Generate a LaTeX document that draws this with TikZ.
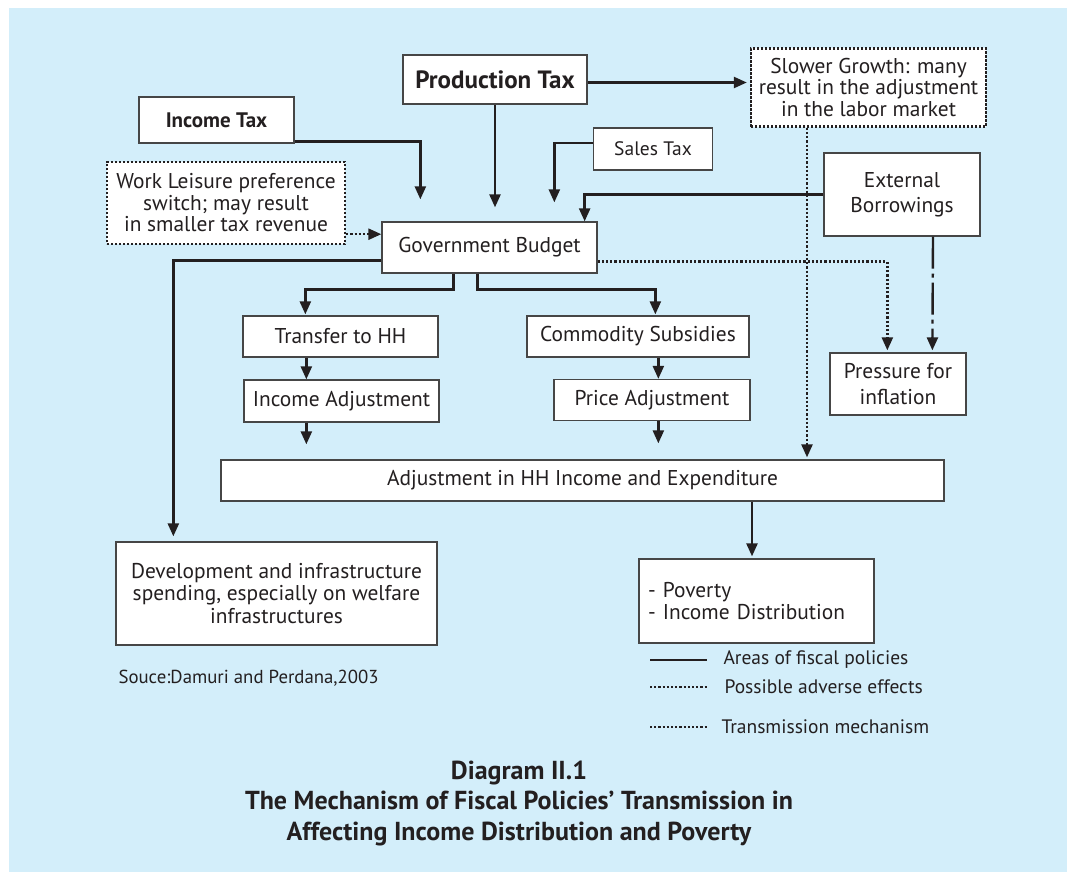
\documentclass[tikz,border=0pt]{standalone}
\usepackage{fontspec}
\setmainfont{PT Sans}
\usetikzlibrary{calc,positioning,arrows.meta}
\definecolor{bgblue}{RGB}{211,238,250}
\definecolor{ink}{RGB}{35,31,32}
\definecolor{edge}{RGB}{70,70,70}

\begin{document}
\begin{tikzpicture}[
    x=1pt, y=-1pt,
    >={Triangle[length=13pt,width=11pt]},
    box/.style={rectangle,draw=edge,line width=1.3pt,fill=white,inner sep=0pt,
                align=center,text=ink,font=\fontsize{21.4}{21.5}\selectfont},
    dotbox/.style={box,draw=ink,line width=2.4pt,dash pattern=on 2.2pt off 1.8pt},
    arr/.style={->,line width=2.4pt,draw=ink},
    dotarr/.style={arr,line width=2.4pt,dash pattern=on 2.2pt off 2pt},
    dasharr/.style={arr,dash pattern=on 32pt off 5pt on 4pt off 5pt},
    legtxt/.style={anchor=west,text=ink,font=\fontsize{19.5}{21}\selectfont},
  ]
  \useasboundingbox (0,0) rectangle (1067,872);
  \fill[bgblue] (9,8) rectangle (1067,872);

  % boxes
  \node[box,line width=2.6pt,minimum width=184pt,minimum height=49pt,
        font=\fontsize{25}{26}\bfseries]               (prod)   at (495,79.5)  {Production Tax};
  \node[dotbox,minimum width=235pt,minimum height=78pt] (slow)   at (868.5,87.5) {Slower Growth: many\\result in the adjustment\\in the labor market};
  \node[box,minimum width=155pt,minimum height=46pt,
        font=\fontsize{21}{22}\bfseries]               (inc)    at (216.5,120) {Income Tax};
  \node[box,minimum width=119pt,minimum height=42pt,
        font=\fontsize{19.5}{21}\selectfont]           (sales)  at (653,149)   {Sales Tax};
  \node[dotbox,minimum width=238pt,minimum height=82pt] (work)   at (226,203)   {Work Leisure preference\\switch; may result\\in smaller tax revenue};
  \node[box,minimum width=156pt,minimum height=83pt,
        font=\fontsize{21.4}{25}\selectfont]           (ext)    at (902,194.5) {External\\Borrowings};
  \node[box,minimum width=215pt,minimum height=51pt]   (govt)   at (489.5,247.5) {Government Budget};
  \node[box,minimum width=195pt,minimum height=41pt]   (trans)  at (340.5,336.5) {Transfer to HH};
  \node[box,minimum width=222pt,minimum height=41pt]   (comm)   at (638,336.5) {Commodity Subsidies};
  \node[box,minimum width=136pt,minimum height=62pt,
        font=\fontsize{21.4}{26}\selectfont]           (press)  at (898,384)   {Pressure for\\inflation};
  \node[box,minimum width=195pt,minimum height=42pt]   (incadj) at (341.5,401) {Income Adjustment};
  \node[box,minimum width=196pt,minimum height=41pt]   (price)  at (652,400)   {Price Adjustment};
  \node[box,minimum width=723pt,minimum height=41pt]   (adj)    at (582.5,480.5) {Adjustment in HH Income and Expenditure};
  \node[box,minimum width=321pt,minimum height=103pt,
        font=\fontsize{21.4}{22.5}\selectfont]         (dev)    at (276.5,593.5) {Development and infrastructure\\spending, especially on welfare\\infrastructures};
  \node[box,minimum width=235pt,minimum height=84pt,
        text width=217pt,align=left]                   (pov)    at (756.5,601) {- Poverty\\- Income Distribution};

  % helper points
  \coordinate (wl) at ($(work.south east)+(0,-11)$);
  \coordinate (gl) at ($(govt.south west)+(0,-13)$);
  \coordinate (gr) at ($(govt.south east)+(0,-12)$);
  \coordinate (ia) at ($(incadj.south west)+(63,0)$);
  \coordinate (pa) at ($(price.south west)+(105,0)$);
  \coordinate (sd) at ($(slow.south)+(-61.5,0)$);
  \coordinate (ap) at ($(pov.north)+(-4.5,0)$);
  \coordinate (pe) at ($(prod.east)+(0,3)$);

  % connectors
  \draw[arr,shorten >=3pt]  (pe) -- (pe -| slow.west);
  \draw[arr,shorten >=14pt] (prod.south) -- (prod.south |- govt.north);
  \draw[arr,shorten >=22pt] ($(inc.south east)+(0,-2)$) -| ($(govt.north west)+(39,0)$);
  \draw[arr,shorten >=19pt] ($(sales.west)+(0,-6)$) -| ($(govt.north west)+(173,0)$);
  \draw[arr]                (ext.west) -| ($(govt.north east)+(-13,0)$);
  \draw[dotarr]             (wl) -- (wl -| govt.west);
  \draw[arr,shorten >=5pt]  (gl) -| ($(dev.north west)+(58,0)$);
  \draw[arr,shorten >=1pt]  ($(govt.south)+(-36,0)$) -- ++(0,16) -| ($(trans.north west)+(63,0)$);
  \draw[arr,shorten >=1pt]  ($(govt.south)+(-12,0)$) -- ++(0,16) -| ($(comm.north west)+(129,0)$);
  \draw[arr]                ($(trans.south west)+(64,0)$) -- ($(incadj.north west)+(63,0)$);
  \draw[arr]                ($(comm.south west)+(132,0)$) -- ($(price.north west)+(105,0)$);
  \draw[arr,shorten >=15pt] (ia) -- (ia |- adj.north);
  \draw[arr,shorten >=16pt] (pa) -- (pa |- adj.north);
  \draw[dotarr,shorten >=2pt] (gr) -| ($(press.north west)+(58,0)$);
  \draw[dasharr,shorten >=2pt] ($(ext.south)+(31,0)$) -- ($(press.north west)+(103,0)$);
  \draw[dotarr,shorten >=2pt] (sd) -- (sd |- adj.north);
  \draw[arr,shorten >=2pt]  (ap |- adj.south) -- (ap);

  % legend
  \coordinate (la1) at (650,660); \coordinate (lb1) at (707,660);
  \coordinate (la2) at (650,687); \coordinate (lb2) at (707,687);
  \coordinate (la3) at (650,727); \coordinate (lb3) at (707,727);
  \draw[line width=2.4pt,ink] (la1) -- (lb1);
  \draw[line width=2.2pt,ink,dash pattern=on 2.2pt off 2pt] (la2) -- (lb2);
  \draw[line width=2.2pt,ink,dash pattern=on 2.2pt off 2pt] (la3) -- (lb3);
  \node[legtxt] (leg1) at (720,660) {Areas of fiscal policies};
  \node[legtxt] (leg2) at (721,687) {Possible adverse effects};
  \node[legtxt] (leg3) at (718,727) {Transmission mechanism};

  \node[legtxt,font=\fontsize{18.8}{20}\selectfont] (src) at (115,678) {Souce:Damuri and Perdana,2003};

  % caption
  \node[text=ink,align=center,font=\fontsize{26}{30.5}\bfseries] (cap) at (519,803)
    {Diagram II.1\\The Mechanism of Fiscal Policies’ Transmission in\\Affecting Income Distribution and Poverty};
\end{tikzpicture}
\end{document}
